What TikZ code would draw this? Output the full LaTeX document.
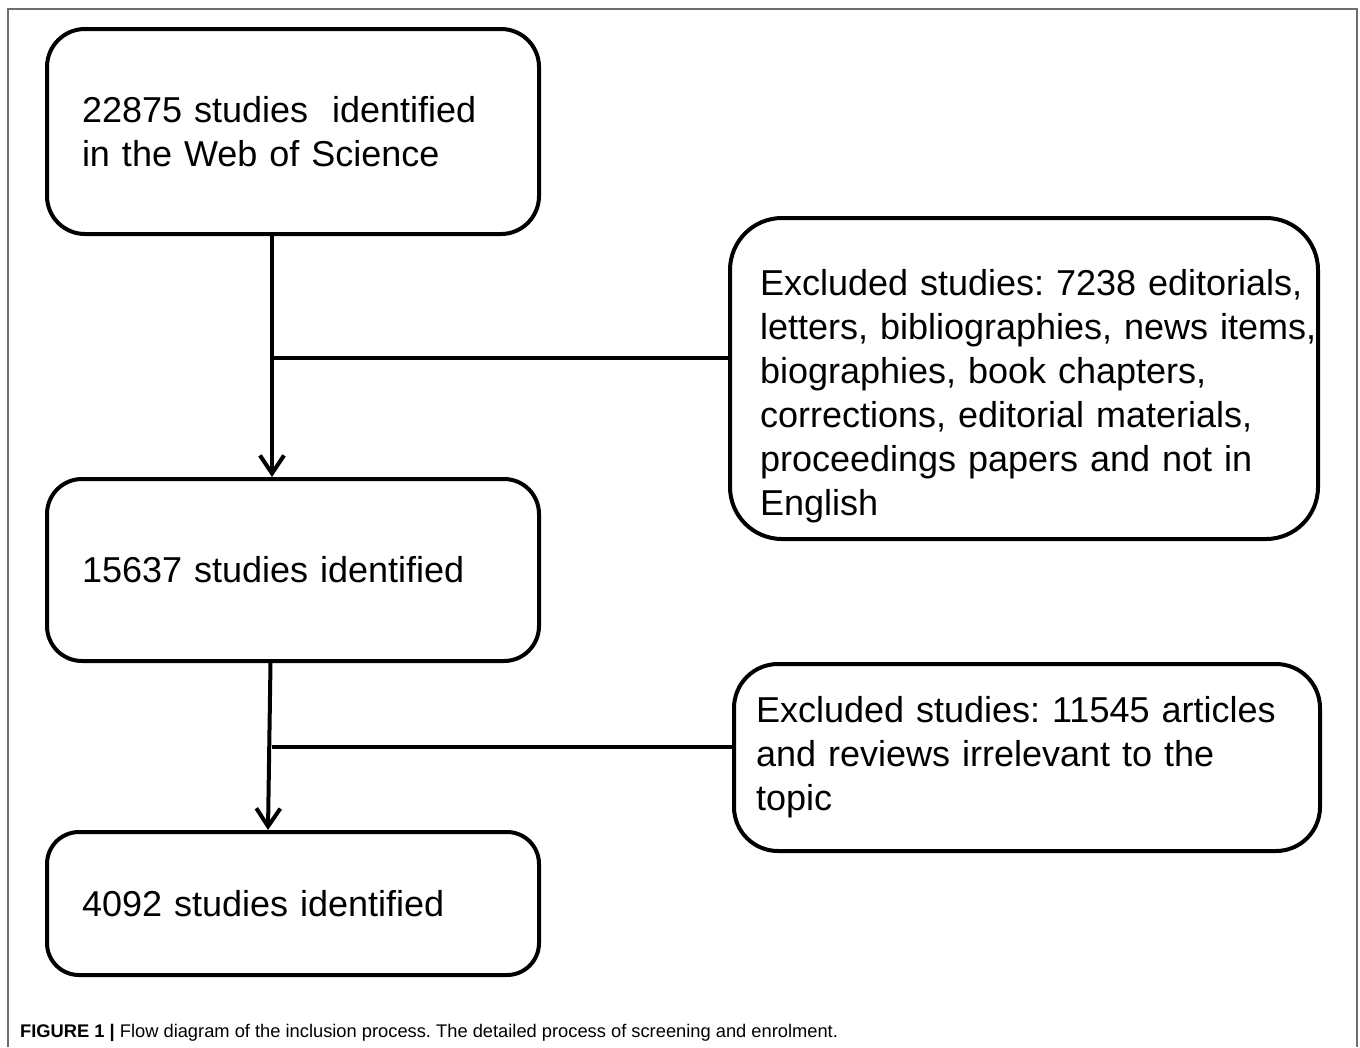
\documentclass[tikz,border=0pt]{standalone}
\usepackage{fontspec}
\setmainfont{Liberation Sans}
\frenchspacing
\usetikzlibrary{arrows.meta}
\definecolor{framec}{HTML}{6E6E6E}
\tikzset{
  stage/.style={draw, line width=4pt, inner sep=0pt, align=left, text width=422pt, minimum width=492pt, font=\fontsize{36}{44}\selectfont},
  flow/.style={line width=4pt, -{Straight Barb[length=18pt,width=24pt]}},
  tie/.style={line width=4pt},
  frame/.style={draw=framec, line width=2pt},
}

\begin{document}
\begin{tikzpicture}[x=1pt,y=-1pt]
\useasboundingbox (0,0) rectangle (1360,1047);
\draw[frame] (8,1047) -- (8,9) -- (1357,9) -- (1357,1047);
\node[stage, rounded corners=38pt, minimum height=205pt] (wos) at (293,131.5) {22875 studies\ \ identified\\in the Web of Science};
\node[stage, rounded corners=35pt, minimum height=182pt] (kept1) at (293,570) {15637 studies identified};
\node[stage, rounded corners=32pt, minimum height=143pt] (kept2) at (293,903.5) {4092 studies identified};
\node[stage, rounded corners=52pt, minimum width=588pt, text width=528pt, minimum height=321pt] (drop1) at (1024,378.5) {\rule{0pt}{62pt}\mbox{Excluded studies: 7238 editorials,}\\\mbox{letters, bibliographies, news items,}\\biographies, book chapters,\\corrections, editorial materials,\\proceedings papers and not in\\English};
\node[stage, rounded corners=44pt, minimum width=586pt, text width=542pt, minimum height=187pt] (drop2) at (1027,757.5) {Excluded studies: 11545 articles\\and reviews irrelevant to the\\topic};
\coordinate (j1) at (272,358);
\coordinate (j2) at (272,747);
\draw[flow] (j1 |- wos.south) -- (j1 |- kept1.north);
\draw[tie] (j1) -- (j1 -| drop1.west);
\draw[flow] ([xshift=-1.5pt]j2 |- kept1.south) -- ([xshift=-4pt]j2 |- kept2.north);
\draw[tie] (j2) -- (j2 -| drop2.west);
\node[anchor=base west, inner sep=0pt, font=\fontsize{18.3}{21}\selectfont] (cap) at (20,1037) {\textbf{FIGURE 1 |} Flow diagram of the inclusion process. The detailed process of screening and enrolment.};
\end{tikzpicture}
\end{document}
